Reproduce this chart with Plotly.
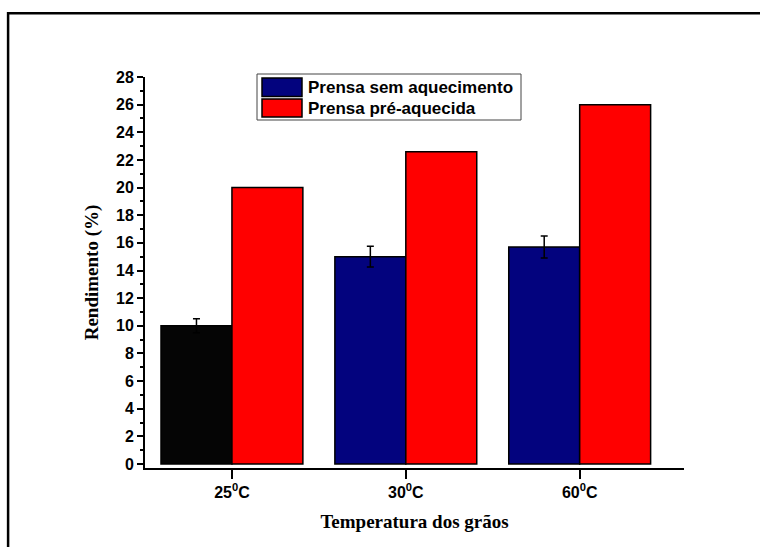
import plotly.graph_objects as go

# Grain temperature categories and yields (%)
categories = ["25C", "30C", "60C"]
tick_labels = ["25<sup>0</sup>C", "30<sup>0</sup>C", "60<sup>0</sup>C"]
sem_aquecimento = [10.0, 15.0, 15.7]
sem_aquecimento_err = [0.5, 0.75, 0.8]
pre_aquecida = [20.0, 22.6, 26.0]
series_names = ["Prensa sem aquecimento", "Prensa pré-aquecida"]

NAVY = "#03037e"
RED = "#ff0000"
BLACK = "#050505"
sem_colors = [BLACK, NAVY, NAVY]

fig = go.Figure()
fig.add_trace(go.Bar(
    x=categories, y=sem_aquecimento, name=series_names[0],
    marker=dict(color=sem_colors, line=dict(color="black", width=1.5)),
    error_y=dict(type="data", array=sem_aquecimento_err, color="black",
                 thickness=1.5, width=3.5),
    showlegend=False,
))
fig.add_trace(go.Bar(
    x=categories, y=pre_aquecida, name=series_names[1],
    marker=dict(color=RED, line=dict(color="black", width=1.5)),
    showlegend=False,
))

tick_font = dict(family="Liberation Sans, Arial", size=16, color="black")
title_font = dict(family="Liberation Serif, Times New Roman", size=19, color="black")

fig.update_layout(
    width=760, height=547,
    margin=dict(l=145, r=76, t=77, b=79),
    paper_bgcolor="white", plot_bgcolor="white",
    barmode="group", bargap=0.184, bargroupgap=0,
    font=tick_font,
)
fig.update_xaxes(
    range=[-0.5, 2.6],
    tickvals=categories, ticktext=["<b>%s</b>" % t for t in tick_labels],
    tickfont=tick_font,
    ticks="outside", ticklen=9, tickwidth=2, tickcolor="black",
    showline=True, linewidth=2, linecolor="black",
    showgrid=False, zeroline=False,
    title=dict(text="<b>Temperatura dos grãos</b>", font=title_font, standoff=14),
)
fig.update_yaxes(
    range=[-0.29, 28],
    tickvals=list(range(0, 29, 2)),
    ticktext=["<b>%d</b>" % v for v in range(0, 29, 2)],
    tickfont=tick_font,
    ticks="outside", ticklen=6, tickwidth=2, tickcolor="black",
    minor=dict(tickvals=list(range(1, 28, 2)), ticks="outside", ticklen=3,
               tickwidth=2, tickcolor="black"),
    showline=True, linewidth=2, linecolor="black",
    showgrid=False, zeroline=False,
    title=dict(text="<b>Rendimento (%)</b>", font=title_font, standoff=12),
)

# Outer frame around the figure
fig.add_shape(type="rect", xref="paper", yref="paper",
              x0=-0.254, x1=1.25, y0=-0.26, y1=1.163,
              line=dict(color="black", width=2.5), fillcolor="rgba(0,0,0,0)")

# Legend box with large colour swatches
def px_x(px):
    return (px - 145) / 539.0

def px_y(py):
    return (468 - py) / 391.0

fig.add_shape(type="rect", xref="paper", yref="paper",
              x0=px_x(257), x1=px_x(521), y0=px_y(120), y1=px_y(74),
              line=dict(color="#444444", width=1), fillcolor="white")
swatch_colors = [NAVY, RED]
rows = [(78, 96.5), (99, 117)]
for name, col, (top, bot) in zip(series_names, swatch_colors, rows):
    fig.add_shape(type="rect", xref="paper", yref="paper",
                  x0=px_x(262), x1=px_x(302), y0=px_y(bot), y1=px_y(top),
                  line=dict(color="black", width=1.5), fillcolor=col)
    fig.add_annotation(xref="paper", yref="paper",
                       x=px_x(306), y=px_y((top + bot) / 2),
                       xanchor="left", yanchor="middle", showarrow=False,
                       text="<b>%s</b>" % name,
                       font=dict(family="Liberation Sans, Arial", size=17, color="black"))

fig.write_html("out.html")
